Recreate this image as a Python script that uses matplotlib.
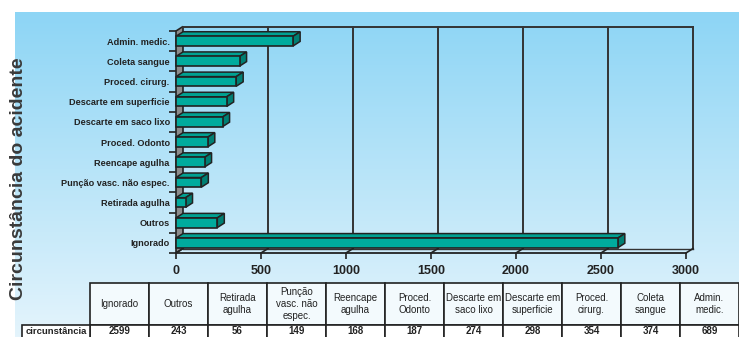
import numpy as np
import matplotlib
matplotlib.use('Agg')
import matplotlib.pyplot as plt
from matplotlib.patches import Polygon, Rectangle

plt.rcParams['font.family'] = ['Liberation Sans', 'DejaVu Sans']

# data: bottom to top in the chart, left to right in the table
categories = ['Ignorado', 'Outros', 'Retirada agulha', 'Punção vasc. não espec.',
              'Reencape agulha', 'Proced. Odonto', 'Descarte em saco lixo',
              'Descarte em superficie', 'Proced. cirurg.', 'Coleta sangue',
              'Admin. medic.']
values = [2599, 243, 56, 149, 168, 187, 274, 298, 354, 374, 689]
table_headers = ['Ignorado', 'Outros', 'Retirada\nagulha', 'Punção\nvasc. não\nespec.',
                 'Reencape\nagulha', 'Proced.\nOdonto', 'Descarte em\nsaco lixo',
                 'Descarte em\nsuperficie', 'Proced.\ncirurg.', 'Coleta\nsangue',
                 'Admin.\nmedic.']
row_label = 'circunstância'
xticks = [0, 500, 1000, 1500, 2000, 2500, 3000]

W, H = 739, 337
fig = plt.figure(figsize=(W/100., H/100.), dpi=100)

# background in pixel coords
bg = fig.add_axes([0, 0, 1, 1])
bg.set_xlim(0, W)
bg.set_ylim(H, 0)
bg.axis('off')
ctop = np.array([141, 213, 245])/255.
cbot = np.array([228, 244, 252])/255.
t = np.linspace(0, 1, 256)[:, None]
grad = ctop + (cbot-ctop)*t
bg.imshow(grad[:, None, :], extent=[15, W, H, 12], aspect='auto', interpolation='bilinear')

# chart (front plane)
x0, x1, yb, yt = 176, 686, 253, 31
n = len(categories)
xmax = 3000
ax = fig.add_axes([x0/W, 1-yb/H, (x1-x0)/W, (yb-yt)/H])
ax.patch.set_alpha(0)
ax.set_xlim(0, xmax)
ax.set_ylim(-0.5, n-0.5)
for s in ax.spines.values():
    s.set_visible(False)
dx = 7.*xmax/(x1-x0)
dy = 4.5*n/(yb-yt)
ybot, ytop = -0.5, n-0.5
lc = '#222222'

# walls
ax.add_patch(Polygon([(0, ybot), (dx, ybot+dy), (dx, ytop+dy), (0, ytop)],
                     fc='#8c8c8c', ec=lc, lw=1.2, clip_on=False, zorder=1))
for v in xticks[1:]:
    ax.plot([v+dx, v+dx], [ybot+dy, ytop+dy], color='#333333', lw=1.4, clip_on=False, zorder=1)
ax.plot([dx, xmax+dx], [ytop+dy, ytop+dy], color='#333333', lw=1.4, clip_on=False, zorder=1)
ax.plot([dx, xmax+dx], [ybot+dy, ybot+dy], color='#333333', lw=1.0, clip_on=False, zorder=1)
ax.plot([0, xmax], [ybot, ybot], color=lc, lw=1.3, clip_on=False, zorder=1)
for v in xticks:
    ax.plot([v, v+dx], [ybot, ybot+dy], color=lc, lw=1.2, clip_on=False, zorder=1)

# bars
h = 0.48
for i, v in enumerate(values):
    ax.add_patch(Polygon([(0, i+h/2), (v, i+h/2), (v+dx, i+h/2+dy), (dx, i+h/2+dy)],
                         fc='#00a192', ec=lc, lw=1.1, clip_on=False, zorder=3))
    ax.add_patch(Polygon([(v, i-h/2), (v+dx, i-h/2+dy), (v+dx, i+h/2+dy), (v, i+h/2)],
                         fc='#007f73', ec=lc, lw=1.1, clip_on=False, zorder=3))
    ax.add_patch(Rectangle((0, i-h/2), v, h, fc='#00ab9d', ec=lc, lw=1.2,
                           clip_on=False, zorder=4))

ax.set_xticks(xticks)
ax.set_xticklabels([str(v) for v in xticks], fontsize=9, fontweight='bold', color=lc)
ax.tick_params(axis='x', length=4, width=1.2, color=lc, pad=5)
ax.set_yticks(np.arange(-0.5, n, 1))
ax.set_yticklabels([])
ax.set_yticks(range(n), minor=True)
ax.set_yticklabels(categories, minor=True, fontsize=6.6, fontweight='bold', color=lc)
ax.tick_params(axis='y', which='major', length=5, width=1.2, color=lc)
ax.tick_params(axis='y', which='minor', length=0, pad=4.5)

fig.text(19/W, 1-179./H, 'Circunstância do acidente', rotation=90, fontsize=14,
         fontweight='bold', color='#3a3a3a', ha='center', va='center')

# table
cx0, cw = 90, 59
hy0, hy1 = 283, 325
for j, (lab, v) in enumerate(zip(table_headers, values)):
    x = cx0 + j*cw
    bg.add_patch(Rectangle((x, hy0), cw, hy1-hy0, fc='#f3fafd', ec=lc, lw=1.2))
    bg.text(x+cw/2., (hy0+hy1)/2., lab, ha='center', va='center', fontsize=7,
            linespacing=1.3, color=lc)
    bg.add_patch(Rectangle((x, hy1), cw, 25, fc='white', ec=lc, lw=1.2))
    bg.text(x+cw/2., 331.5, str(v), ha='center', va='center', fontsize=7,
            fontweight='bold', color=lc)
bg.add_patch(Rectangle((22, hy1), cx0-22, 25, fc='white', ec=lc, lw=1.2))
bg.text(26, 331, row_label, ha='left', va='center', fontsize=6.8,
        fontweight='bold', color=lc)

fig.savefig('out.png', dpi=100)
